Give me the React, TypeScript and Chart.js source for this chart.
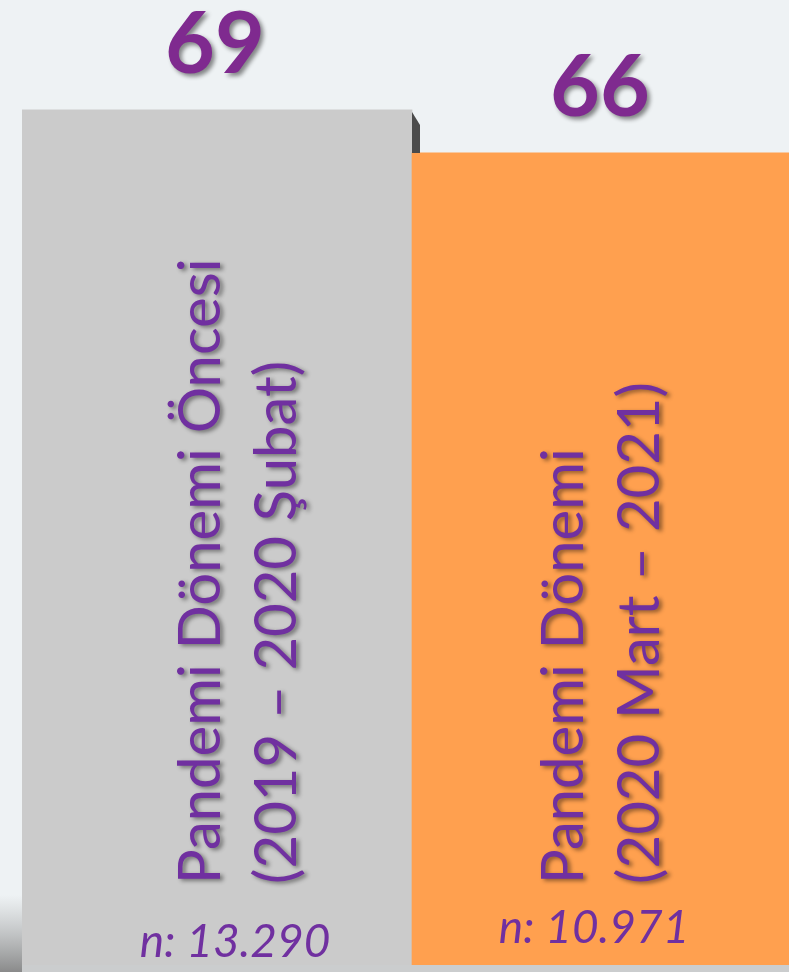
import React, { useEffect, useRef } from "react";
import { Chart, registerables } from "chart.js";

Chart.register(...registerables);

const categories = ["Pandemi Dönemi Öncesi", "Pandemi Dönemi"];
const periods = ["(2019 – 2020 Şubat)", "(2020 Mart – 2021)"];
const values = [69, 66];
const sampleSizes = ["n: 13.290", "n: 10.971"];
const barColors = ["#cbcbcb", "#ffa04f"];
const yMin = 9.35;
const yMax = 76.67;

// small per-bar label nudges (perspective of the original slide)
const textNudge = [3, -24];
const nNudgeX = [18, -13];
const nNudgeY = [8, 22];
const valueNudge = [-2, -7];

const labelPlugin = {
  id: "slideLabels",
  beforeDraw(chart: any) {
    const { ctx, width, height } = chart;
    ctx.save();
    ctx.fillStyle = "#eef2f4";
    ctx.fillRect(0, 0, width, height);
    const area = chart.chartArea;
    const g = ctx.createLinearGradient(0, area.bottom - 70, 0, height);
    g.addColorStop(0, "rgba(150,150,150,0)");
    g.addColorStop(1, "rgba(120,120,120,0.85)");
    ctx.fillStyle = g;
    ctx.fillRect(0, area.bottom - 70, area.left, height - area.bottom + 70);
    ctx.fillStyle = "rgba(160,160,160,0.45)";
    ctx.fillRect(area.left, area.bottom, width, height - area.bottom);
    ctx.restore();
  },
  afterDatasetsDraw(chart: any) {
    const { ctx } = chart;
    const bottom = chart.chartArea.bottom;
    const meta = chart.getDatasetMeta(0);
    const bars = meta.data.map((b: any) => b.getProps(["x", "y", "width"], true));

    // 3D side of the first bar
    if (bars.length > 1) {
      const r = bars[0].x + bars[0].width / 2;
      ctx.save();
      ctx.fillStyle = "#4b4b4b";
      ctx.beginPath();
      ctx.moveTo(r, bars[0].y + 2);
      ctx.lineTo(r + 8, bars[0].y + 15);
      ctx.lineTo(r + 8, bars[1].y);
      ctx.lineTo(r, bars[1].y);
      ctx.closePath();
      ctx.fill();
      ctx.restore();
    }

    bars.forEach((bar: any, i: number) => {
      // value label
      ctx.save();
      ctx.shadowColor = "rgba(0,0,0,0.45)";
      ctx.shadowBlur = 4;
      ctx.shadowOffsetX = 3;
      ctx.shadowOffsetY = 3;
      ctx.fillStyle = "#7f2a8f";
      ctx.font = "bold 86px Lato";
      ctx.textAlign = "center";
      ctx.textBaseline = "alphabetic";
      ctx.fillText(String(values[i]), bar.x + valueNudge[i], bar.y - 37);
      ctx.restore();

      // rotated category text
      ctx.save();
      ctx.shadowColor = "rgba(0,0,0,0.45)";
      ctx.shadowBlur = 4;
      ctx.shadowOffsetX = 3;
      ctx.shadowOffsetY = 2;
      ctx.fillStyle = "#7030a0";
      ctx.font = "58px Lato";
      ctx.textAlign = "left";
      ctx.textBaseline = "alphabetic";
      ctx.translate(bar.x + textNudge[i], bottom - 81);
      ctx.rotate(-Math.PI / 2);
      ctx.fillText(categories[i], 0, 0);
      ctx.fillText(periods[i], 0, 76);
      ctx.restore();

      // sample size
      ctx.save();
      ctx.fillStyle = "#7030a0";
      ctx.font = "italic 46px Lato";
      ctx.textAlign = "center";
      ctx.textBaseline = "alphabetic";
      ctx.fillText(sampleSizes[i], bar.x + nNudgeX[i], bottom - nNudgeY[i]);
      ctx.restore();
    });
  },
};

export default function App() {
  const ref = useRef<HTMLCanvasElement>(null);
  useEffect(() => {
    if (!ref.current) return;
    const chart = new Chart(ref.current, {
      type: "bar",
      data: {
        labels: categories,
        datasets: [
          {
            data: values,
            backgroundColor: barColors,
            borderWidth: 0,
            barPercentage: 1,
            categoryPercentage: 1,
          },
        ],
      },
      options: {
        responsive: false,
        animation: false,
        layout: { padding: { left: 22, right: 0, top: 0, bottom: 7 } },
        plugins: { legend: { display: false }, tooltip: { enabled: false } },
        scales: {
          x: { display: false, grid: { display: false } },
          y: { display: false, min: yMin, max: yMax, grid: { display: false } },
        },
      },
      plugins: [labelPlugin],
    });
    return () => chart.destroy();
  }, []);
  return (
    <div
      style={{
        position: "absolute",
        left: 0,
        top: 0,
        width: 789,
        height: 972,
        overflow: "hidden",
      }}
    >
      <canvas ref={ref} width={802} height={972} style={{ display: "block" }} />
    </div>
  );
}
